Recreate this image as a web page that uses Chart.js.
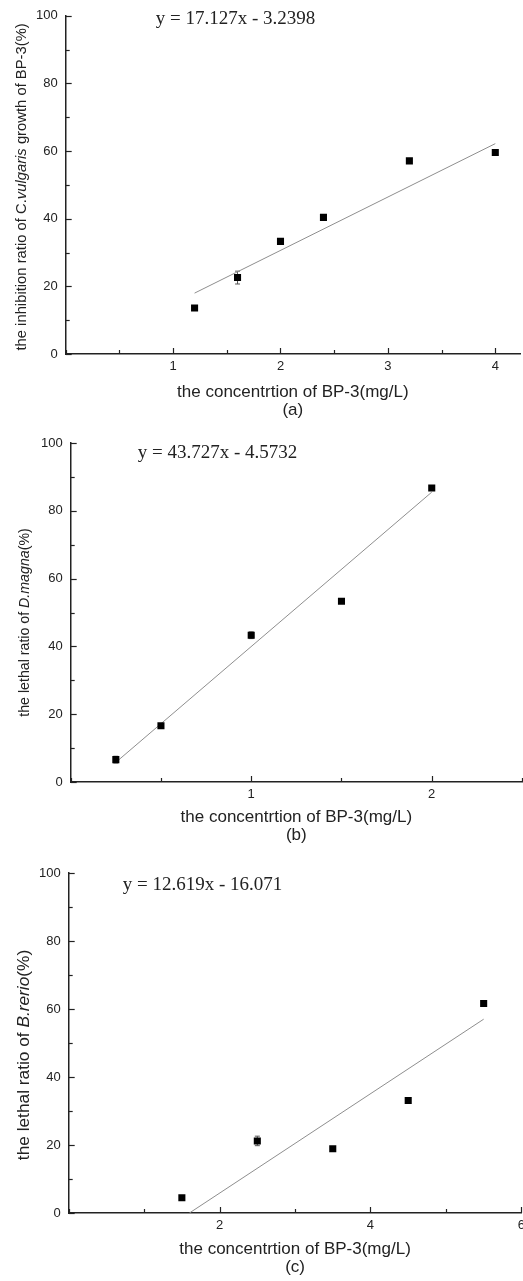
<!DOCTYPE html>
<html>
<head>
<meta charset="utf-8">
<script src="https://cdn.jsdelivr.net/npm/chart.js@4.4.0/dist/chart.umd.min.js"></script>
<style>
html, body { margin: 0; padding: 0; background: #fff; overflow: hidden; }
body { width: 523px; height: 1281px; position: relative; }
canvas { position: absolute; left: 0; }
</style>
</head>
<body>
<canvas id="chartA" width="525" height="420" style="top:0px"></canvas>
<canvas id="chartB" width="527" height="425" style="top:420px"></canvas>
<canvas id="chartC" width="530" height="436" style="top:845px"></canvas>
<script>
// (a) inhibition of C. vulgaris growth
const concA = [1.2, 1.6, 2.0, 2.4, 3.2, 4.0]
const ratioA = [13.6, 22.6, 33.3, 40.4, 57.1, 59.6]
const errA = [0.4, 1.9, 0.6, 0.4, 0.5, 0.5]
const fitXA = [1.2, 4.0]
const fitYA = [18.0, 62.2]
const eqA = 'y = 17.127x - 3.2398'
const yTitleA = ['the inhibition ratio of C.', 'vulgaris', ' growth of BP-3(%)']

// (b) lethal ratio of D. magna
const concB = [0.25, 0.5, 1.0, 1.5, 2.0]
const ratioB = [6.6, 16.6, 43.3, 53.3, 86.7]
const errB = [1.0, 0.5, 1.0, 0.5, 0.5]
const fitXB = [0.25, 2.0]
const fitYB = [5.8, 85.5]
const eqB = 'y = 43.727x - 4.5732'
const yTitleB = ['the lethal ratio of ', 'D.magna', '(%)']

// (c) lethal ratio of B. rerio
const concC = [1.5, 2.5, 3.5, 4.5, 5.5]
const ratioC = [4.5, 21.2, 18.9, 33.1, 61.6]
const errC = [0.5, 1.4, 0.5, 0.5, 0.5]
const fitXC = [1.6, 5.5]
const fitYC = [0, 57.0]
const eqC = 'y = 12.619x - 16.071'
const yTitleC = ['the lethal ratio of ', 'B.rerio', '(%)']

const xTitle = 'the concentrtion of BP-3(mg/L)'
const yTicksShown = [20, 40, 60, 80, 100, 0]

const SANS = '"Liberation Sans", Arial, sans-serif'
const SERIF = '"Liberation Serif", "Times New Roman", serif'
const INK = '#222'

// inward tick marks, long on labelled values, short on the others
const axisTicks = {
  id: 'axisTicks',
  afterDraw(chart) {
    const ctx = chart.ctx
    const area = chart.chartArea
    const sx = chart.scales.x
    const sy = chart.scales.y
    ctx.save()
    ctx.strokeStyle = INK
    ctx.lineWidth = 1.2
    const onStep = (v, step) => Math.abs(v / step - Math.round(v / step)) < 1e-6
    sx.ticks.forEach(t => {
      if (!onStep(t.value, sx.options.ticks.stepSize)) return
      const len = t.label ? 6 : 4
      const px = Math.round(sx.getPixelForValue(t.value)) + 0.5
      ctx.beginPath()
      ctx.moveTo(px, area.bottom)
      ctx.lineTo(px, area.bottom - len)
      ctx.stroke()
    })
    sy.ticks.forEach(t => {
      if (!onStep(t.value, sy.options.ticks.stepSize)) return
      const len = t.label ? 6 : 4
      const py = Math.round(sy.getPixelForValue(t.value)) + 0.5
      ctx.beginPath()
      ctx.moveTo(area.left, py)
      ctx.lineTo(area.left + len, py)
      ctx.stroke()
    })
    ctx.restore()
  }
}

// y axis title with an italic species name
const yTitle = {
  id: 'yTitle',
  afterDraw(chart, args, opts) {
    const ctx = chart.ctx
    const area = chart.chartArea
    const fonts = opts.parts.map((p, i) => (i % 2 ? 'italic ' : '') + opts.size + 'px ' + SANS)
    const widths = opts.parts.map((p, i) => {
      ctx.font = fonts[i]
      return ctx.measureText(p).width
    })
    const total = widths.reduce((a, b) => a + b, 0)
    ctx.save()
    ctx.fillStyle = INK
    ctx.textBaseline = 'middle'
    ctx.textAlign = 'left'
    ctx.translate(opts.x, (area.top + area.bottom) / 2 + opts.dy)
    ctx.rotate(-Math.PI / 2)
    let pos = -total / 2
    opts.parts.forEach((p, i) => {
      ctx.font = fonts[i]
      ctx.fillText(p, pos, 0)
      pos += widths[i]
    })
    ctx.restore()
  }
}

const equation = {
  id: 'equation',
  afterDraw(chart, args, opts) {
    const ctx = chart.ctx
    const area = chart.chartArea
    ctx.save()
    ctx.fillStyle = INK
    ctx.font = opts.size + 'px ' + SERIF
    ctx.textBaseline = 'middle'
    ctx.textAlign = 'left'
    ctx.fillText(opts.text, area.left + opts.dx, area.top + opts.dy)
    ctx.restore()
  }
}

const errorBars = {
  id: 'errorBars',
  beforeDatasetsDraw(chart, args, opts) {
    const ctx = chart.ctx
    const sx = chart.scales.x
    const sy = chart.scales.y
    const pts = chart.data.datasets[0].data
    ctx.save()
    ctx.strokeStyle = '#555'
    ctx.lineWidth = 1
    pts.forEach((p, i) => {
      const e = opts.errors[i]
      const px = sx.getPixelForValue(p.x)
      const top = sy.getPixelForValue(p.y + e)
      const bot = sy.getPixelForValue(p.y - e)
      ctx.beginPath()
      ctx.moveTo(px, top); ctx.lineTo(px, bot)
      ctx.moveTo(px - 2.5, top); ctx.lineTo(px + 2.5, top)
      ctx.moveTo(px - 2.5, bot); ctx.lineTo(px + 2.5, bot)
      ctx.stroke()
    })
    ctx.restore()
  }
}

function makeChart(id, p) {
  const points = p.conc.map((c, i) => ({ x: c, y: p.ratio[i] }))
  const fit = p.fitX.map((c, i) => ({ x: c, y: p.fitY[i] }))
  return new Chart(document.getElementById(id), {
    type: 'scatter',
    data: {
      datasets: [{
        data: points,
        pointStyle: 'rect',
        pointRadius: 5,
        backgroundColor: '#000',
        borderColor: '#000',
        borderWidth: 0
      }, {
        data: fit,
        showLine: true,
        pointRadius: 0,
        borderColor: '#8e8e8e',
        borderWidth: 1
      }]
    },
    options: {
      responsive: false,
      animation: false,
      layout: { padding: p.padding },
      plugins: {
        legend: { display: false },
        tooltip: { enabled: false },
        yTitle: { parts: p.yTitle, size: p.yTitleSize, x: p.yTitleX, dy: p.yTitleDy },
        equation: { text: p.eq, size: 19, dx: p.eqDx, dy: p.eqDy },
        errorBars: { errors: p.err }
      },
      scales: {
        x: {
          type: 'linear',
          min: 0,
          max: p.xMax,
          grid: { display: false, drawTicks: false },
          border: { display: true, color: INK, width: 1.5 },
          ticks: {
            stepSize: p.xStep,
            includeBounds: false,
            padding: 5,
            color: INK,
            font: { family: SANS, size: 13 },
            maxRotation: 0,
            autoSkip: false,
            callback: (v) => p.xLabels.includes(v) ? String(v) : ''
          },
          title: {
            display: true,
            text: [xTitle, p.caption],
            color: INK,
            font: { family: SANS, size: 17, lineHeight: 1.1 },
            padding: { top: p.xTitlePad, bottom: 0 }
          }
        },
        y: {
          min: 0,
          max: 100,
          grid: { display: false, drawTicks: false },
          border: { display: true, color: INK, width: 1.5 },
          ticks: {
            stepSize: 10,
            padding: 8,
            color: INK,
            font: { family: SANS, size: 13 },
            autoSkip: false,
            callback: (v) => yTicksShown.includes(v) ? String(v) : ''
          }
        }
      }
    },
    plugins: [errorBars, axisTicks, yTitle, equation]
  })
}

makeChart('chartA', {
  conc: concA, ratio: ratioA, err: errA, fitX: fitXA, fitY: fitYA,
  eq: eqA, eqDx: 90, eqDy: 3,
  yTitle: yTitleA, yTitleSize: 14.8, yTitleX: 22, yTitleDy: 2,
  xMax: 4.23, xStep: 0.5, xLabels: [1, 2, 3, 4], caption: '(a)',
  xTitlePad: 3,
  padding: { top: 15, left: 28, right: 0, bottom: 0 }
})

makeChart('chartB', {
  conc: concB, ratio: ratioB, err: errB, fitX: fitXB, fitY: fitYB,
  eq: eqB, eqDx: 67, eqDy: 10,
  yTitle: yTitleB, yTitleSize: 14.2, yTitleX: 25, yTitleDy: 10,
  xMax: 2.5, xStep: 0.5, xLabels: [1, 2], caption: '(b)',
  xTitlePad: 0,
  padding: { top: 23, left: 33, right: 0, bottom: 0 }
})

makeChart('chartC', {
  conc: concC, ratio: ratioC, err: errC, fitX: fitXC, fitY: fitYC,
  eq: eqC, eqDx: 54, eqDy: 12,
  yTitle: yTitleC, yTitleSize: 17.3, yTitleX: 24, yTitleDy: 12,
  xMax: 6, xStep: 1, xLabels: [2, 4, 6], caption: '(c)',
  xTitlePad: 1,
  padding: { top: 28, left: 31, right: 0, bottom: 4 }
})
</script>
</body>
</html>
